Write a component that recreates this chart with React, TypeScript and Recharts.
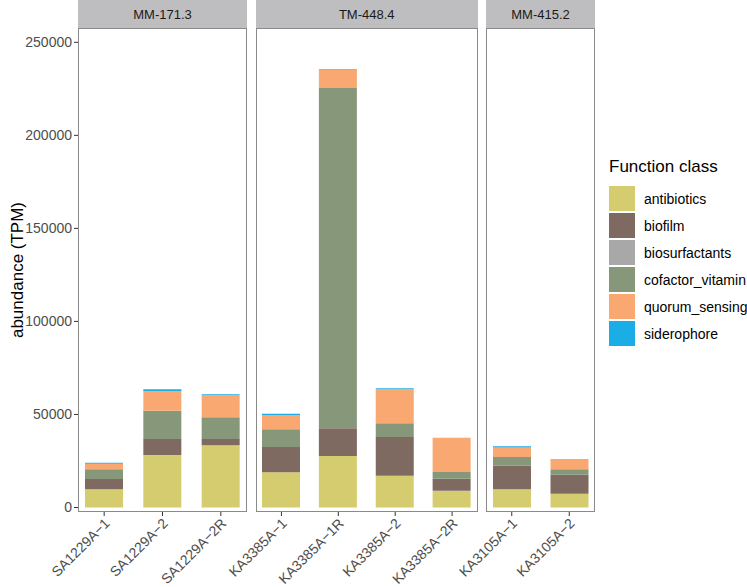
import { BarChart, Bar, XAxis, YAxis } from 'recharts';

const samples = [
  'SA1229A−1', 'SA1229A−2', 'SA1229A−2R',
  'KA3385A−1', 'KA3385A−1R', 'KA3385A−2', 'KA3385A−2R',
  'KA3105A−1', 'KA3105A−2',
];
const sites = [
  'MM-171.3', 'MM-171.3', 'MM-171.3',
  'TM-448.4', 'TM-448.4', 'TM-448.4', 'TM-448.4',
  'MM-415.2', 'MM-415.2',
];
const facets = ['MM-171.3', 'TM-448.4', 'MM-415.2'];

const antibiotics = [9800, 28200, 33400, 18900, 27700, 17100, 9000, 9800, 7400];
const biofilm = [5500, 8600, 3400, 13600, 14900, 20800, 6450, 12700, 10200];
const biosurfactants = [0, 0, 0, 0, 0, 0, 0, 0, 0];
const cofactorVitamin = [5200, 15200, 11700, 9500, 182800, 7400, 3600, 4700, 2900];
const quorumSensing = [3000, 10500, 12000, 7700, 10000, 18300, 18400, 5000, 5100];
const siderophore = [500, 1000, 300, 700, 300, 500, 100, 750, 300];

const yTicks = [0, 50000, 100000, 150000, 200000, 250000];

const series = [
  { key: 'antibiotics', color: '#D4CC6E', values: antibiotics },
  { key: 'biofilm', color: '#7E6A60', values: biofilm },
  { key: 'biosurfactants', color: '#A8A8A8', values: biosurfactants },
  { key: 'cofactor_vitamin', color: '#86977A', values: cofactorVitamin },
  { key: 'quorum_sensing', color: '#F8A870', values: quorumSensing },
  { key: 'siderophore', color: '#1BAEE6', values: siderophore },
];

const rows = samples.map((s, i) => {
  const r: Record<string, any> = { sample: s, site: sites[i] };
  series.forEach((se) => (r[se.key] = se.values[i]));
  return r;
});

const FONT = '"Liberation Sans", Arial, sans-serif';
const PLOT_TOP = 28;
const PLOT_BOTTOM = 512;
const H = 587;
const Y_DOMAIN = [-2418, 257685];

// panel plot areas (left, width)
const panels = [
  { left: 78, width: 169 },
  { left: 256, width: 221.5 },
  { left: 486, width: 109 },
];

const XTick = (props: any) => {
  const { x, y, payload } = props;
  return (
    <g transform={`translate(${x},${y})`}>
      <text
        x={0}
        y={9}
        transform="rotate(-45)"
        textAnchor="end"
        fontSize={14}
        fill="#4D4D4D"
        fontFamily={FONT}
      >
        {payload.value}
      </text>
    </g>
  );
};

function Panel({ idx }: { idx: number }) {
  const p = panels[idx];
  const data = rows.filter((r) => r.site === facets[idx]);
  const first = idx === 0;
  const yw = first ? 78 : 0;
  return (
    <div style={{ position: 'absolute', left: p.left - yw, top: 0 }}>
      <BarChart
        width={p.width + yw}
        height={H}
        data={data}
        margin={{ top: PLOT_TOP, right: 0, left: 0, bottom: 0 }}
        barCategoryGap={0}
      >
        <XAxis
          dataKey="sample"
          height={H - PLOT_BOTTOM}
          interval={0}
          padding={{ left: -3, right: -3 }}
          axisLine={false}
          tickLine={{ stroke: '#333', strokeWidth: 1 }}
          tickSize={4}
          tick={<XTick />}
        />
        <YAxis
          hide={!first}
          width={yw}
          domain={Y_DOMAIN}
          ticks={yTicks}
          allowDataOverflow
          axisLine={false}
          tickLine={{ stroke: '#333', strokeWidth: 1 }}
          tickSize={4}
          tick={{ fill: '#4D4D4D', fontSize: 14, fontFamily: FONT }}
        />
        {series.map((s) => (
          <Bar
            key={s.key}
            dataKey={s.key}
            stackId="a"
            fill={s.color}
            barSize={38}
            isAnimationActive={false}
          />
        ))}
      </BarChart>
      <div
        style={{
          position: 'absolute',
          left: yw,
          top: PLOT_TOP,
          width: p.width,
          height: PLOT_BOTTOM - PLOT_TOP,
          border: '1px solid #8A8A8A',
          boxSizing: 'border-box',
          pointerEvents: 'none',
        }}
      />
      <div
        style={{
          position: 'absolute',
          left: yw,
          top: 0,
          width: p.width,
          height: PLOT_TOP,
          background: '#BEBEC0',
          fontFamily: FONT,
          fontSize: 13,
          color: '#1A1A1A',
          display: 'flex',
          alignItems: 'center',
          justifyContent: 'center',
        }}
      >
        {facets[idx]}
      </div>
    </div>
  );
}

export default function App() {
  return (
    <div
      style={{
        position: 'absolute',
        left: 0,
        top: 0,
        width: 747,
        height: 587,
        background: '#fff',
        overflow: 'hidden',
        fontFamily: FONT,
      }}
    >
      <style>{'.recharts-surface{overflow:visible}'}</style>
      <Panel idx={0} />
      <Panel idx={1} />
      <Panel idx={2} />
      <div
        style={{
          position: 'absolute',
          left: 18,
          top: 270,
          transform: 'translate(-50%, -50%) rotate(-90deg)',
          fontSize: 17,
          color: '#000',
          whiteSpace: 'nowrap',
        }}
      >
        abundance (TPM)
      </div>
      <div style={{ position: 'absolute', left: 609, top: 157 }}>
        <div style={{ fontSize: 17, color: '#000', height: 28 }}>Function class</div>
        {series.map((s) => (
          <div key={s.key} style={{ display: 'flex', alignItems: 'center', height: 27 }}>
            <div style={{ width: 26, height: 25, background: s.color, marginRight: 9 }} />
            <span style={{ fontSize: 14, color: '#000' }}>{s.key}</span>
          </div>
        ))}
      </div>
    </div>
  );
}
